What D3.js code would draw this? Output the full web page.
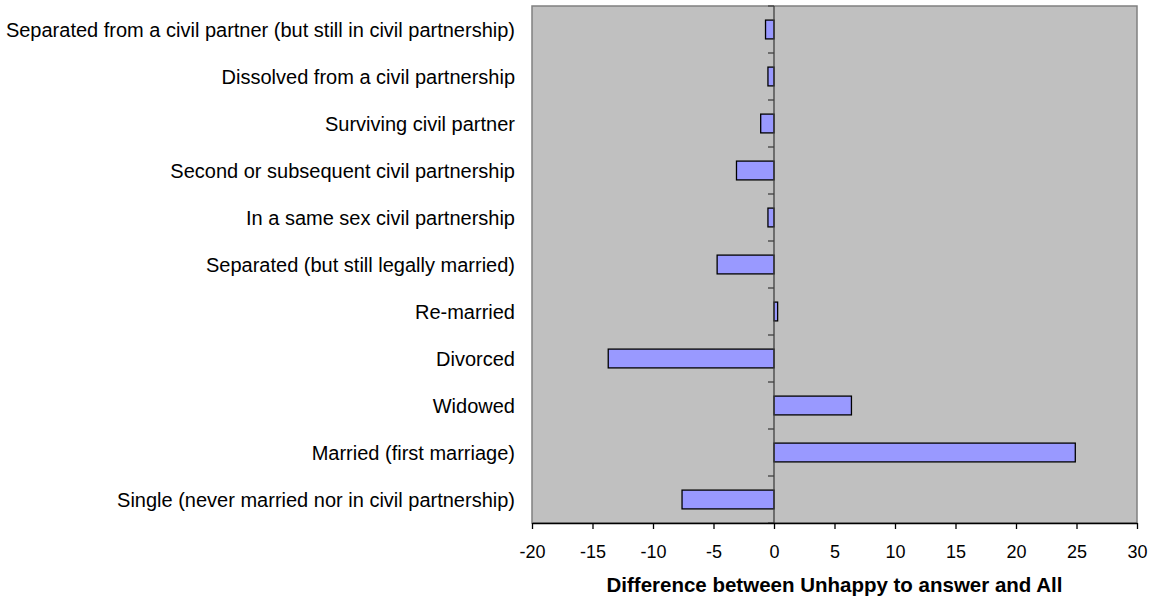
<!DOCTYPE html>
<html>
<head>
<meta charset="utf-8">
<script src="https://cdn.jsdelivr.net/npm/d3@7"></script>
<style>
  body { margin: 0; background: #fff; }
  text { font-family: "Liberation Sans", Arial, sans-serif; }
</style>
</head>
<body>
<div id="chart"></div>
<script>
// categories from top to bottom
const categories = [
  "Separated from a civil partner (but still in civil partnership)",
  "Dissolved from a civil partnership",
  "Surviving civil partner",
  "Second or subsequent civil partnership",
  "In a same sex civil partnership",
  "Separated (but still legally married)",
  "Re-married",
  "Divorced",
  "Widowed",
  "Married (first marriage)",
  "Single (never married nor in civil partnership)"
];
const differences = [-0.7, -0.5, -1.1, -3.1, -0.5, -4.7, 0.3, -13.7, 6.4, 24.9, -7.6];
const xTicks = [-20, -15, -10, -5, 0, 5, 10, 15, 20, 25, 30];
const xTitle = "Difference between Unhappy to answer and All";

const svgWidth = 1156, svgHeight = 601;
const margin = {top: 6, right: 19, bottom: 78, left: 532};
const width = svgWidth - margin.left - margin.right,
      height = svgHeight - margin.top - margin.bottom;

const svg = d3.select("#chart").append("svg")
  .attr("width", svgWidth)
  .attr("height", svgHeight);

const g = svg.append("g")
  .attr("transform", "translate(" + margin.left + "," + margin.top + ")");

const x = d3.scaleLinear().domain([-20, 30]).range([0, width]);
const y = d3.scaleBand().domain(categories).range([0, height]).paddingInner(0.6).paddingOuter(0.3);
const yb = d3.scaleBand().domain(categories).range([0, height]);

// plot background
g.append("rect")
  .attr("width", width).attr("height", height)
  .attr("fill", "#c0c0c0")
  .attr("stroke", "#808080")
  .attr("stroke-width", 1.5);

// bars
g.selectAll(".bar")
  .data(categories)
  .enter().append("rect")
    .attr("class", "bar")
    .attr("x", (d, i) => x(Math.min(0, differences[i])))
    .attr("y", d => y(d))
    .attr("width", (d, i) => Math.abs(x(differences[i]) - x(0)))
    .attr("height", y.bandwidth())
    .attr("fill", "#9999ff")
    .attr("stroke", "#000")
    .attr("stroke-width", 1.3);

// vertical axis on zero line
g.append("line")
  .attr("x1", x(0)).attr("x2", x(0))
  .attr("y1", 0).attr("y2", height)
  .attr("stroke", "#404040").attr("stroke-width", 1.3);

g.selectAll(".ytick")
  .data(d3.range(categories.length + 1))
  .enter().append("line")
    .attr("x1", x(0) - 6).attr("x2", x(0))
    .attr("y1", i => i * yb.step())
    .attr("y2", i => i * yb.step())
    .attr("stroke", "#404040").attr("stroke-width", 1.3);

// category labels
g.selectAll(".ylabel")
  .data(categories)
  .enter().append("text")
    .attr("x", -17)
    .attr("y", d => yb(d) + yb.bandwidth() / 2)
    .attr("dy", "0.35em")
    .attr("text-anchor", "end")
    .attr("font-size", 20)
    .attr("fill", "#000")
    .text(d => d);

// bottom axis
const xAxis = g.append("g")
  .attr("transform", "translate(0," + height + ")")
  .call(d3.axisBottom(x).tickValues(xTicks).tickFormat(d => String(d))
    .tickSize(6).tickSizeOuter(0).tickPadding(16));
xAxis.select(".domain").attr("stroke", "#000").attr("stroke-width", 1.3);
xAxis.selectAll(".tick line").attr("stroke", "#000").attr("stroke-width", 1.3);
xAxis.selectAll(".tick text")
  .attr("font-size", 18)
  .attr("font-family", "Liberation Sans, Arial, sans-serif")
  .attr("fill", "#000");

// axis title
g.append("text")
  .attr("x", width / 2)
  .attr("y", height + 69)
  .attr("text-anchor", "middle")
  .attr("font-size", 20.5)
  .attr("font-weight", "bold")
  .text(xTitle);
</script>
</body>
</html>
